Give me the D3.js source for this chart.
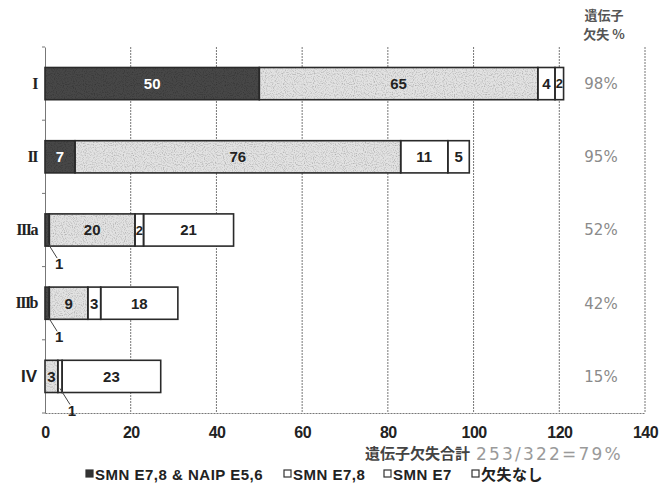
<!DOCTYPE html>
<html><head><meta charset="utf-8">
<script src="https://cdn.jsdelivr.net/npm/d3@7"></script>
<style>
html,body{margin:0;padding:0;background:#fff;}
svg{display:block;}
</style>
</head><body>
<svg id="c" width="672" height="488"></svg>
<script>
// ---- data ----
const categories = ["I", "II", "IIIa", "IIIb", "IV"];
const seriesNames = ["SMN E7,8 & NAIP E5,6", "SMN E7,8", "SMN E7", "欠失なし"];
const smnNaip = [50, 7, 1, 1, 0];
const smn78 = [65, 76, 20, 9, 3];
const smn7 = [4, 11, 2, 3, 1];
const noDeletion = [2, 5, 21, 18, 23];
const xTicks = [0, 20, 40, 60, 80, 100, 120, 140];
const headerLines = ["遺伝子", "欠失 %"];
const totalLabel = "遺伝子欠失合計";

const series = [smnNaip, smn78, smn7, noDeletion];
const fills = ["#474747", "#e2e2e2", "#ffffff", "#ffffff"];
const textFills = ["#ffffff", "#222", "#222", "#222"];

const svg = d3.select("#c");
const defs = svg.append("defs");
const flt = defs.append("filter").attr("id", "grain").attr("x", 0).attr("y", 0).attr("width", 1).attr("height", 1);
flt.append("feTurbulence").attr("type", "fractalNoise").attr("baseFrequency", 0.9).attr("numOctaves", 1).attr("seed", 3).attr("result", "n");
flt.append("feColorMatrix").attr("in", "n").attr("type", "matrix")
  .attr("values", "0 0 0 0 0  0 0 0 0 0  0 0 0 0 0  0 0 0 1.2 -0.55").attr("result", "a");
flt.append("feComposite").attr("in", "a").attr("in2", "SourceGraphic").attr("operator", "atop");

const x = d3.scaleLinear().domain([0, 140]).range([45, 645]);
const y = d3.scaleBand().domain(categories).range([47, 413]).paddingInner(0.56).paddingOuter(0.28);

// gridlines
svg.append("g").selectAll("line").data(xTicks.slice(1)).join("line")
  .attr("x1", d => x(d)).attr("x2", d => x(d))
  .attr("y1", 47).attr("y2", 413)
  .attr("stroke", "#777").attr("stroke-width", 1).attr("stroke-dasharray", "2,1");

// x axis
const xAxis = d3.axisBottom(x).tickValues(xTicks).tickSize(0).tickPadding(14);
const gx = svg.append("g").attr("transform", "translate(0,413)").call(xAxis);
gx.select(".domain").attr("stroke", "#777").attr("stroke-dasharray", "2,1");
gx.selectAll("text").attr("font-family", "'Liberation Sans',Arial,sans-serif")
  .attr("font-weight", "bold").attr("font-size", 16).attr("fill", "#222").attr("letter-spacing", -0.6);

// y axis
const yAxis = d3.axisLeft(y).tickSize(0).tickPadding(8);
const gy = svg.append("g").attr("transform", "translate(45,0)").call(yAxis);
gy.select(".domain").attr("stroke", "#777");
gy.selectAll("text")
  .attr("font-family", d => d === "IV" ? "'Liberation Sans',Arial,sans-serif" : "'Liberation Serif',serif")
  .attr("font-weight", "bold")
  .attr("letter-spacing", d => d === "IV" ? 0 : -1.5)
  .attr("font-size", d => d === "IV" ? 17 : 16).attr("fill", "#222");
// boundary ticks on left axis
const step = y.step();
svg.append("g").selectAll("line").data(d3.range(categories.length + 1)).join("line")
  .attr("x1", 42).attr("x2", 45)
  .attr("y1", i => 47 + i * step).attr("y2", i => 47 + i * step)
  .attr("stroke", "#777");

// stacked bars
const rows = categories.map((c, i) => {
  let acc = 0;
  return series.map((s, k) => {
    const seg = { cat: c, k, v: s[i], x0: acc, x1: acc + s[i] };
    acc += s[i];
    return seg;
  });
});
const segs = rows.flat().filter(d => d.v > 0);

svg.append("g").selectAll("rect").data(segs).join("rect")
  .attr("x", d => x(d.x0)).attr("width", d => x(d.x1) - x(d.x0))
  .attr("y", d => y(d.cat)).attr("height", y.bandwidth())
  .attr("fill", d => fills[d.k])
  .attr("filter", d => d.k < 2 ? "url(#grain)" : null);
svg.append("g").selectAll("rect").data(segs).join("rect")
  .attr("x", d => x(d.x0)).attr("width", d => x(d.x1) - x(d.x0))
  .attr("y", d => y(d.cat)).attr("height", y.bandwidth())
  .attr("fill", "none").attr("stroke", "#2a2a2a").attr("stroke-width", 1.6);

// in-bar labels (values > 1)
svg.append("g").selectAll("text").data(segs.filter(d => d.v > 1)).join("text")
  .attr("x", d => (x(d.x0) + x(d.x1)) / 2)
  .attr("y", d => y(d.cat) + y.bandwidth() / 2)
  .attr("dy", "0.36em").attr("text-anchor", "middle")
  .attr("font-family", "'Liberation Sans',Arial,sans-serif").attr("font-weight", "bold")
  .attr("font-size", d => d.v < 3 ? 13 : 15)
  .attr("fill", d => textFills[d.k]).text(d => d.v);

// callouts for value 1
const ones = segs.filter(d => d.v === 1);
const cg = svg.append("g");
ones.forEach(d => {
  const cx = (x(d.x0) + x(d.x1)) / 2;
  const by = y(d.cat) + y.bandwidth();
  cg.append("line").attr("x1", cx).attr("y1", by - 4).attr("x2", cx + 10).attr("y2", by + 12)
    .attr("stroke", "#444").attr("stroke-width", 1);
  cg.append("text").attr("x", cx + 12).attr("y", by + 23).attr("text-anchor", "middle")
    .attr("font-family", "'Liberation Sans',Arial,sans-serif").attr("font-weight", "bold")
    .attr("font-size", 15).attr("fill", "#222").text(d.v);
});

// percent column
const pct = categories.map((c, i) => {
  const tot = series.reduce((a, s) => a + s[i], 0);
  return Math.round((tot - noDeletion[i]) / tot * 100) + "%";
});
svg.append("g").selectAll("text").data(categories).join("text")
  .attr("x", 601).attr("y", d => y(d) + y.bandwidth() / 2).attr("dy", "0.36em")
  .attr("text-anchor", "middle")
  .attr("font-family", "'DejaVu Sans',sans-serif").attr("font-size", 15).attr("fill", "#8a8a8a")
  .text((d, i) => pct[i]);

svg.append("g").selectAll("text").data(headerLines).join("text")
  .attr("x", 604).attr("y", (d, i) => 20 + i * 19).attr("text-anchor", "middle")
  .attr("font-family", "'Noto Sans CJK JP',sans-serif").attr("font-weight", "bold")
  .attr("font-size", 13).attr("fill", "#555").text(d => d);

// total line
const allTot = d3.sum(series.map(s => d3.sum(s)));
const allDel = allTot - d3.sum(noDeletion);
svg.append("text").attr("x", 365).attr("y", 459)
  .attr("font-family", "'Noto Sans CJK JP',sans-serif").attr("font-weight", "bold")
  .attr("font-size", 15).attr("fill", "#444").text(totalLabel);
svg.append("text").attr("x", 476).attr("y", 460)
  .attr("font-family", "'DejaVu Sans',sans-serif").attr("font-size", 17).attr("letter-spacing", 2.2)
  .attr("fill", "#9a9a9a").text(`${allDel}/${allTot}=${Math.round(allDel / allTot * 100)}%`);

// legend
const legX = [86, 284, 384, 472];
const lg = svg.append("g").selectAll("g").data(seriesNames).join("g")
  .attr("transform", (d, i) => `translate(${legX[i]},480)`);
lg.append("rect").attr("x", 0).attr("y", -10).attr("width", 7).attr("height", 7)
  .attr("fill", (d, i) => i === 0 ? "#333" : "#fff").attr("stroke", "#333").attr("stroke-width", 1.2);
lg.append("text").attr("x", 9).attr("y", 0)
  .attr("font-family", "'Liberation Sans','Noto Sans CJK JP',sans-serif").attr("font-weight", "bold")
  .attr("font-size", 15).attr("letter-spacing", 0.5).attr("fill", "#222").text(d => d);
</script>
</body></html>
